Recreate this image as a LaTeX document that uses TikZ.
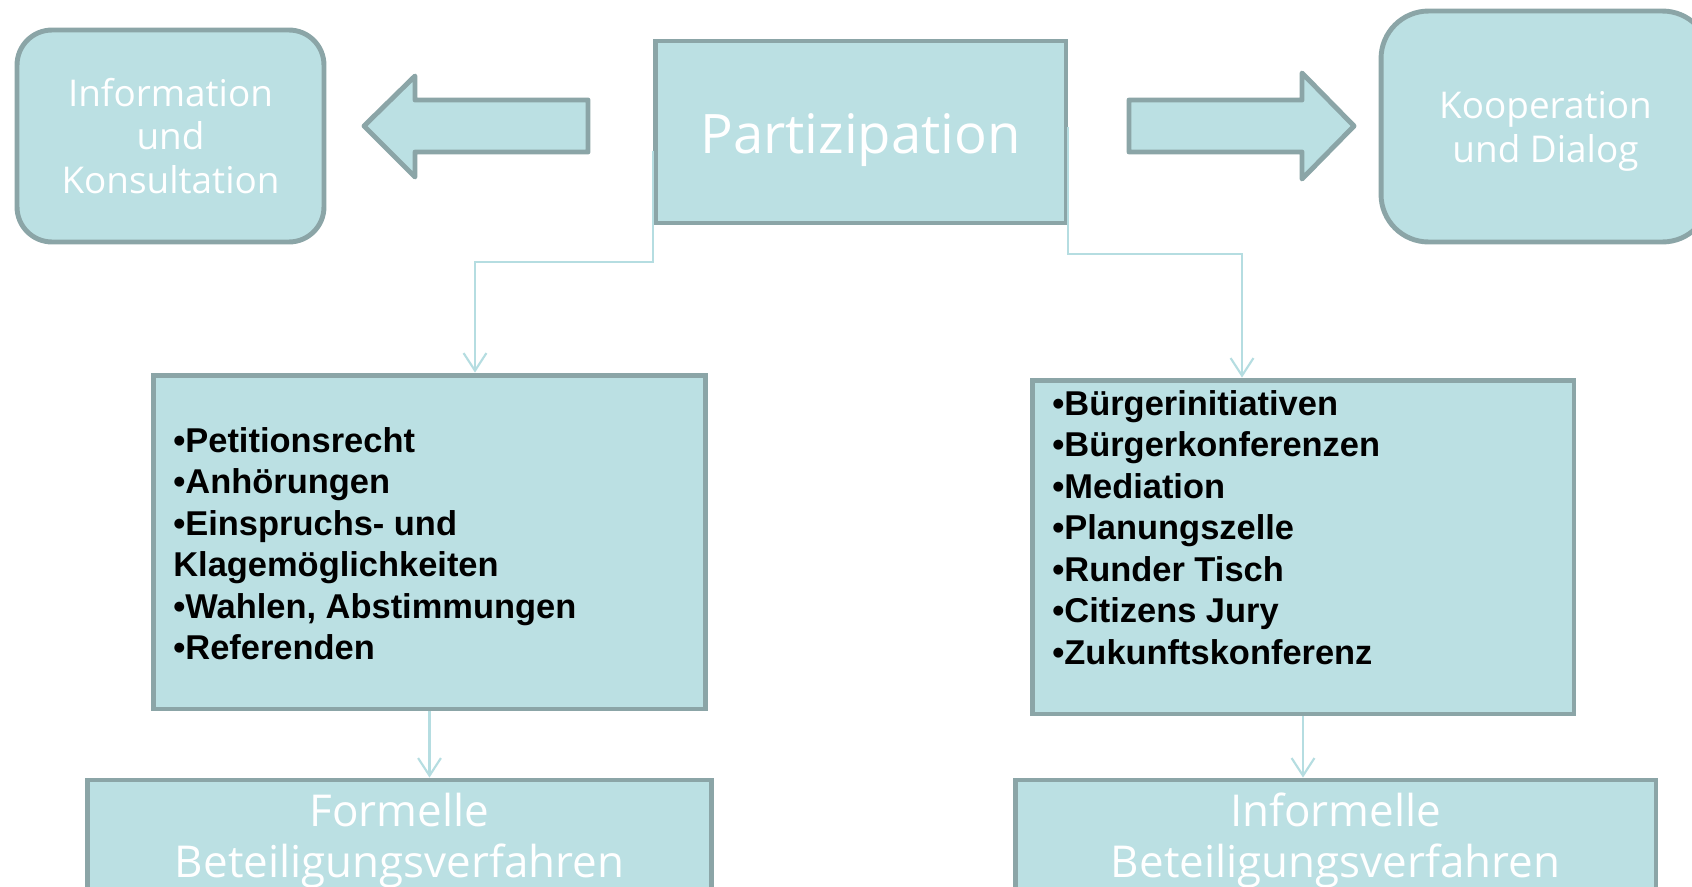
\documentclass[tikz,border=0pt]{standalone}
\usepackage{fontspec}
\usepackage{tikz}
\usetikzlibrary{arrows.meta,positioning}
\newfontfamily\boxfont{Open Sans}
\newfontfamily\listfont{Liberation Sans}
\definecolor{boxfill}{HTML}{BBE0E3}
\definecolor{boxline}{HTML}{8BA5A7}
\definecolor{linkline}{HTML}{B5DDE1}

\begin{document}
\begin{tikzpicture}[x=0.02cm,y=-0.02cm,
    box/.style={draw=boxline,fill=boxfill,line width=2.8pt,inner sep=0pt,align=center,text=white},
    roundbox/.style={box,rounded corners=0.7cm},
    blockarrow/.style={draw=boxline,fill=boxfill,line width=2.8pt,line join=round},
    link/.style={draw=linkline,line width=1.2pt,-{Straight Barb[length=10pt,width=13pt]}},
    listitem/.style={font=\listfont\bfseries\fontsize{19.6}{23.5}\selectfont,anchor=base west,inner sep=0pt}]
    \useasboundingbox (0,0) rectangle (1692,886);
    \fill[white] (0,0) rectangle (1692,886);
    \clip (0,0) rectangle (1692,886);
    % top row
    \node[roundbox,minimum width=6.14cm,minimum height=4.24cm,font=\boxfont\fontsize{21}{25}\selectfont] (info) at (170.5,136) {Information\\und\\Konsultation};
    \node[box,minimum width=8.22cm,minimum height=3.64cm,font=\boxfont\fontsize{31}{37}\selectfont,text height=24pt,text depth=0pt] (part) at (860.5,132) {Partizipation};
    \node[roundbox,rounded corners=0.95cm,minimum width=6.58cm,minimum height=4.62cm,font=\boxfont\fontsize{21}{25}\selectfont,text depth=0pt] (koop) at (1545.5,126.5) {Kooperation\\und Dialog};
    \filldraw[blockarrow] (588,100) -- (415,100) -- (415,76) -- (364,126) -- (415,177) -- (415,152) -- (588,152) -- cycle;
    \filldraw[blockarrow] (1129,100) -- (1302,100) -- (1302,73) -- (1354,126) -- (1302,179) -- (1302,152) -- (1129,152) -- cycle;
    % lists
    \node[box,minimum width=11.06cm,minimum height=6.68cm] (llist) at (429.5,542) {};
    \node[box,minimum width=10.84cm,minimum height=6.68cm] (rlist) at (1303,547) {};
    \foreach \t [count=\i] in {•Petitionsrecht,•Anhörungen,•Einspruchs- und,Klagemöglichkeiten,{•Wahlen, Abstimmungen},•Referenden} {
      \node[listitem] (lp\i) at (173,{452+41.5*(\i-1)}) {\t};
    }
    \foreach \t [count=\i] in {•Bürgerinitiativen,•Bürgerkonferenzen,•Mediation,•Planungszelle,•Runder Tisch,•Citizens Jury,•Zukunftskonferenz} {
      \node[listitem] (rp\i) at (1052,{415+41.5*(\i-1)}) {\t};
    }
    % bottom row
    \node[box,minimum width=12.5cm,minimum height=2.2cm,font=\boxfont\fontsize{25}{29}\selectfont,text depth=0pt] (formal) at (399.5,835) {Formelle\\Beteiligungsverfahren};
    \node[box,minimum width=12.82cm,minimum height=2.2cm,font=\boxfont\fontsize{25}{29}\selectfont,text depth=0pt] (informal) at (1335.5,835) {Informelle\\Beteiligungsverfahren};
    % connectors
    \draw[link] ([yshift=-0.38cm]part.west) -- ++(0,111) -| ([xshift=0.91cm]llist.north);
    \draw[link] ([yshift=0.1cm]part.east) -- ++(0,127) -| ([xshift=-1.22cm]rlist.north);
    \draw[link] (llist.south) -- (llist.south |- formal.north);
    \draw[link] (rlist.south) -- (rlist.south |- informal.north);
\end{tikzpicture}
\end{document}
